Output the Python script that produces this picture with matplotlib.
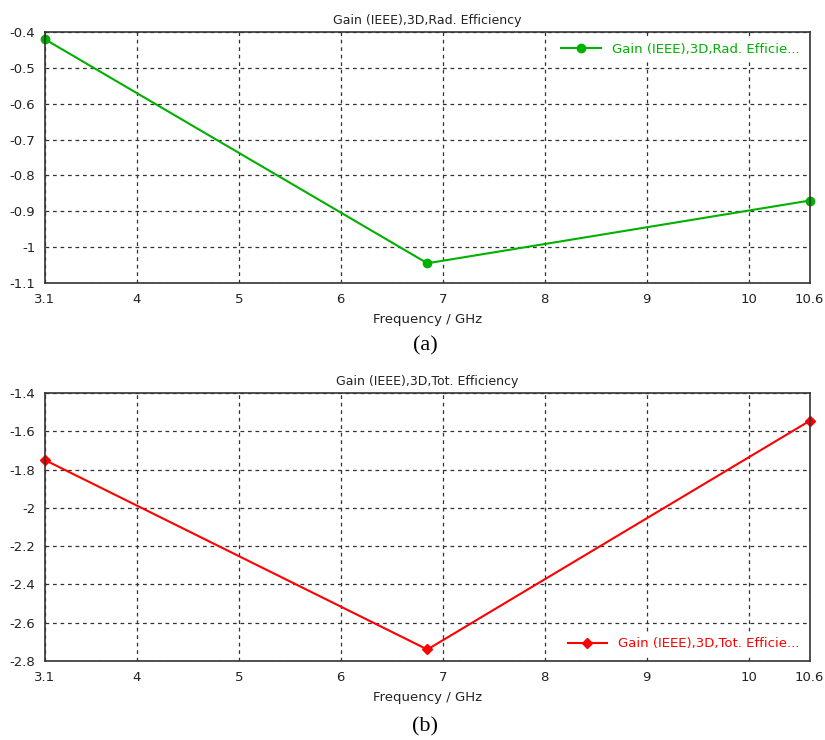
import matplotlib
matplotlib.use('Agg')
import matplotlib.pyplot as plt

freq = [3.1, 6.85, 10.6]
rad_eff = [-0.42, -1.045, -0.87]
tot_eff = [-1.75, -2.74, -1.545]
xticks = [3.1, 4, 5, 6, 7, 8, 9, 10, 10.6]
xticklabels = ['3.1', '4', '5', '6', '7', '8', '9', '10', '10.6']
yticks_a = [-0.4, -0.5, -0.6, -0.7, -0.8, -0.9, -1, -1.1]
yticks_b = [-1.4, -1.6, -1.8, -2, -2.2, -2.4, -2.6, -2.8]

plt.rcParams['font.family'] = ['DejaVu Sans']
plt.rcParams['font.size'] = 9.5

fig = plt.figure(figsize=(8.25, 7.4), dpi=100)
ax1 = fig.add_axes([0.0545, 0.6176, 0.927, 0.339])
ax2 = fig.add_axes([0.0545, 0.1068, 0.927, 0.362])


def style(ax, yticks, title):
    ax.set_xlim(3.1, 10.6)
    ax.set_ylim(min(yticks), max(yticks))
    ax.set_xticks(xticks)
    ax.set_xticklabels(xticklabels)
    ax.set_yticks(yticks)
    ax.set_yticklabels(['%g' % v for v in yticks])
    ax.grid(True, color='#333333', linestyle=(0, (3, 3)), linewidth=0.9)
    ax.tick_params(length=0, pad=7, labelcolor='#222222')
    for s in ax.spines.values():
        s.set_color('#333333')
        s.set_linewidth(1.2)
    ax.set_xlabel('Frequency / GHz', color='#222222', labelpad=5)
    ax.set_title(title, color='#222222', fontsize=9, pad=6)


style(ax1, yticks_a, 'Gain (IEEE),3D,Rad. Efficiency')
ax1.plot(freq, rad_eff, color='#00b000', marker='o', markersize=6, linewidth=1.5, clip_on=False,
         label='Gain (IEEE),3D,Rad. Efficie...')
leg = ax1.legend(loc='upper right', frameon=True, fancybox=False, edgecolor='white', framealpha=1,
                 handlelength=3, borderaxespad=0.4, fontsize=9.5)
for t in leg.get_texts():
    t.set_color('#00b000')

style(ax2, yticks_b, 'Gain (IEEE),3D,Tot. Efficiency')
ax2.plot(freq, tot_eff, color='#ff0000', marker='D', markersize=5.5, linewidth=1.5, clip_on=False,
         label='Gain (IEEE),3D,Tot. Efficie...')
leg = ax2.legend(loc='lower right', frameon=True, fancybox=False, edgecolor='white', framealpha=1,
                 handlelength=3, borderaxespad=0.4, fontsize=9.5)
for t in leg.get_texts():
    t.set_color('#ff0000')

fig.text(0.515, 0.533, '(a)', ha='center', va='center', fontsize=16, family='Liberation Serif')
fig.text(0.515, 0.018, '(b)', ha='center', va='center', fontsize=16, family='Liberation Serif')

fig.savefig('out.png', dpi=100, facecolor='white')
